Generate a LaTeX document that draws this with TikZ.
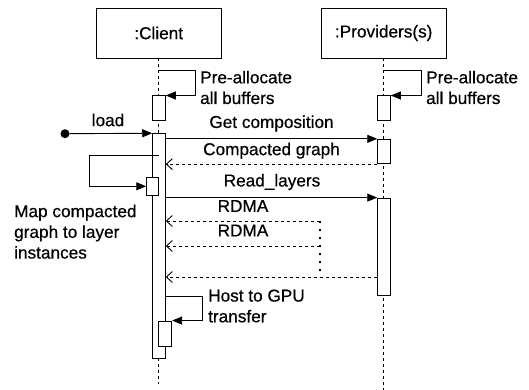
\documentclass[tikz,border=0pt]{standalone}
\usepackage{fontspec}
\setmainfont{Liberation Sans}[FakeBold=0.5]
\usetikzlibrary{arrows.meta}
\begin{document}
\begin{tikzpicture}[x=1pt,y=-1pt,
  txt/.style={font=\fontsize{17.2}{20.7}\selectfont, inner sep=0pt},
  head/.style={draw, line width=0.9pt, minimum width=125pt, minimum height=50pt, inner sep=0pt, font=\fontsize{17.2}{20.7}\selectfont},
  act/.style={draw, fill=white, line width=0.9pt, inner sep=0pt, minimum width=12.6pt},
  life/.style={line width=0.8pt, dash pattern=on 3pt off 3pt},
  msg/.style={line width=0.9pt, -{Triangle[length=10pt,width=8pt]}},
  reply/.style={line width=0.9pt, dash pattern=on 3pt off 3pt, -{Straight Barb[length=6pt,width=11pt]}},
  dotv/.style={line width=1.6pt, dash pattern=on 1.6pt off 6.4pt}
]
\useasboundingbox (0,0) rectangle (529,390);
% heads
\node[head] (ch) at (158.7,33) {:Client};
\node[head] (ph) at (383.7,33) {:Providers(s)};
\coordinate (cend) at (159,384);
\coordinate (pend) at (384,390);
\draw[life] (ch.south) -- (ch.south |- cend);
\draw[life] (ph.south) -- (ph.south |- pend);
% activation boxes
\node[act, minimum height=24.7pt] (ca1) at (159,108.3) {};
\node[act, minimum height=224.6pt] (ca2) at (159,246) {};
\node[act, minimum height=18.7pt, minimum width=12pt] (ca3) at (152.7,186.3) {};
\node[act, minimum height=25pt, minimum width=13pt] (ca4) at (165.2,333.5) {};
\node[act, minimum height=24.7pt] (pa1) at (384,108.3) {};
\node[act, minimum height=24.4pt] (pa2) at (384,151.5) {};
\node[act, minimum height=97.7pt] (pa3) at (384,246.9) {};
% self call client: pre-allocate
\coordinate (cs1) at (159,70.7);
\draw[msg] (cs1) -- ++(36,0) |- (ca1.north east);
\node[txt, align=left, anchor=west] (tpa1) at (200,87.5) {Pre-allocate\\all buffers};
% self call provider: pre-allocate
\coordinate (ps1) at (384,70.7);
\draw[msg] (ps1) -- ++(37,0) |- (pa1.north east);
\node[txt, align=left, anchor=west] (tpa2) at (426,87.5) {Pre-allocate\\all buffers};
% load
\node[circle, fill, inner sep=0pt, minimum size=9pt] (ld) at (65,133.7) {};
\draw[msg] (ld) -- (ca2.north west);
\node[txt] (tld) at (108,120) {load};
% get composition
\draw[msg] (pa2.north west -| ca2.east) -- (pa2.north west);
\node[txt] (tgc) at (271.5,123.5) {Get composition};
% compacted graph
\draw[reply] (pa2.south west) -- (pa2.south west -| ca2.east);
\node[txt] (tcg) at (271.5,150.7) {Compacted graph};
% map compacted self call
\coordinate (ms) at (158.7,155);
\draw[msg] (ms) -- ++(-69.7,0) |- (ca3.west);
\node[txt, align=left, anchor=west] (tmap) at (14,231.7) {Map compacted\\graph to layer\\instances};
% read layers
\draw[msg] (pa3.north west -| ca2.east) -- (pa3.north west);
\node[txt] (trl) at (272,182) {Read\_layers};
% RDMA
\coordinate (r1) at (320,221);
\coordinate (r2) at (320,246);
\coordinate (r3) at (320,277);
\draw[reply] (r1) -- (r1 -| ca2.east);
\node[txt] (trd1) at (243,206) {RDMA};
\draw[reply] (r2) -- (r2 -| ca2.east);
\node[txt] (trd2) at (243,230.5) {RDMA};
\draw[dotv] (r1) -- (r3);
\draw[reply] (pa3.west |- r3) -- (r3 -| ca2.east);
% host to GPU
\coordinate (hs) at (165.3,296);
\draw[msg] (hs) -- ++(37,0) |- (ca4.north east);
\node[txt, align=left, anchor=west] (thg) at (208,306) {Host to GPU\\transfer};
\end{tikzpicture}
\end{document}
